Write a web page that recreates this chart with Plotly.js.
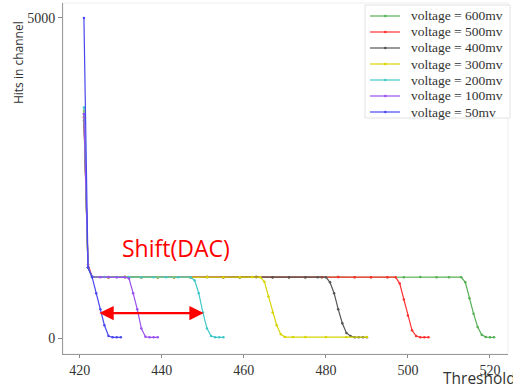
<!DOCTYPE html>
<html><head><meta charset="utf-8">
<script src="https://cdn.plot.ly/plotly-3.0.1.min.js"></script>
<style>html,body{margin:0;padding:0;background:#fff}#chart{width:513px;height:386px}</style>
</head><body><div id="chart"></div>
<script>
const seriesNames = ['voltage = 600mv','voltage = 500mv','voltage = 400mv','voltage = 300mv','voltage = 200mv','voltage = 100mv','voltage = 50mv'];
const seriesColors = ['#55b055','#ff3030','#555555','#d8d400','#40c8c8','#9a50f0','#4848f0'];

const greenX = [421,422,423,427,431,435,439,443,447,451,455,459,463,467,471,475,479,483,487,491,495,499,503,507,510,513,514,515,516,517,518,519,520,521];
const greenY = [3400,1100,955,950,952,950,948,951,950,953,949,950,952,950,948,951,950,952,949,950,951,950,952,949,950,950,870,620,380,170,50,15,10,10];
const redX = [421,422,423,427,431,435,439,443,447,451,455,459,463,467,471,475,479,483,487,491,495,497,498,499,500,501,502,503,504,505];
const redY = [3450,1150,960,950,952,950,948,951,950,953,949,950,952,950,948,951,950,952,949,950,951,950,850,600,350,120,30,10,10,10];
const grayX = [421,422,423,427,431,435,439,443,447,451,455,459,463,467,471,475,478,480,481,482,483,484,485,486,487,488,489,490];
const grayY = [3500,1100,955,950,952,950,948,951,950,953,949,950,952,950,948,951,950,950,870,700,450,230,80,30,10,10,10,10];
const yellowX = [421,422,423,427,431,435,439,443,447,451,455,459,462,464,465,466,467,468,469,470,472,475,480,485,490];
const yellowY = [3550,1100,955,950,952,950,948,951,950,953,949,950,952,950,880,650,400,200,60,15,15,15,15,15,15];
const cyanX = [421,422,423,426,429,432,435,438,441,444,447,448,449,450,451,452,453,454,455];
const cyanY = [3600,1100,955,952,950,953,949,951,950,948,950,900,700,400,150,30,10,10,10];
const purpleX = [421,422,423,425,427,429,431,432,433,434,435,436,437,438,439];
const purpleY = [3500,1100,955,950,952,948,950,930,700,450,150,20,10,10,10];
const blueX = [421,422,423,424,425,426,427,428,429,430];
const blueY = [5000,1100,950,700,450,200,30,10,10,10];

const xTickVals = [420,440,460,480,500,520];
const yTickVals = [0,5000];

const xs = [greenX,redX,grayX,yellowX,cyanX,purpleX,blueX];
const ys = [greenY,redY,grayY,yellowY,cyanY,purpleY,blueY];

const traces = xs.map((x,i)=>({
  x:x, y:ys[i], type:'scatter', mode:'lines+markers', name:seriesNames[i], showlegend:false,
  line:{color:seriesColors[i], width:1.2},
  marker:{color:seriesColors[i], size:2.5}
}));

// pixel -> paper helpers for the hand-built legend box
const L=63, R=508, T=3, B=354;
const px = v => (v-L)/(R-L);
const py = v => 1-(v-T)/(B-T);

const shapes = [
  {type:'rect', xref:'paper', yref:'paper', x0:0, x1:1, y0:0, y1:1, line:{color:'#eeeeee', width:1}, layer:'below'},
  {type:'rect', xref:'paper', yref:'paper', x0:px(365), x1:px(510), y0:py(118), y1:py(5), line:{color:'#e2e2e2', width:1}, fillcolor:'#ffffff', layer:'above'}
];
const annotations = [
  {xref:'paper', yref:'paper', x:-0.101, y:0.829, text:'Hits in channel', textangle:-90, showarrow:false,
    xanchor:'center', yanchor:'middle', font:{family:'Open Sans', size:12, color:'#333'}},
  {xref:'paper', yref:'paper', x:px(441), y:py(378), text:'Threshold', showarrow:false,
    xanchor:'left', yanchor:'middle', font:{family:'Open Sans', size:15.5, color:'#333'}},
  {xref:'x', yref:'y', x:443.5, y:1406, text:'Shift(DAC)', showarrow:false,
    xanchor:'center', yanchor:'middle', font:{family:'Open Sans', size:23, color:'#ff0000'}},
  {xref:'x', yref:'y', axref:'x', ayref:'y', x:450.2, y:390, ax:424.4, ay:390, text:'', showarrow:true,
    arrowhead:2, startarrowhead:2, arrowside:'end+start', arrowsize:1.3, startarrowsize:1.3, arrowwidth:2.2, arrowcolor:'#ff0000'}
];
seriesNames.forEach((name,i)=>{
  const rowY = 16 + 16*i;
  shapes.push({type:'line', xref:'paper', yref:'paper', x0:px(370), x1:px(400), y0:py(rowY), y1:py(rowY),
    line:{color:seriesColors[i], width:1.2}, layer:'above'});
  shapes.push({type:'circle', xref:'paper', yref:'paper', x0:px(384), x1:px(386.5), y0:py(rowY+1.2), y1:py(rowY-1.2),
    line:{width:0}, fillcolor:seriesColors[i], layer:'above'});
  annotations.push({xref:'paper', yref:'paper', x:px(409), y:py(rowY), text:name, showarrow:false,
    xanchor:'left', yanchor:'middle', font:{family:'Liberation Serif', size:13.5, color:'#333'}});
});

const layout = {
  width:513, height:386,
  margin:{l:63, r:5, t:3, b:32},
  paper_bgcolor:'#fff', plot_bgcolor:'#fff',
  showlegend:false,
  xaxis:{range:[415.9,524.4], tickvals:xTickVals, ticks:'outside', ticklen:3, tickcolor:'#888',
    showline:true, linecolor:'#999', linewidth:1, showgrid:false, zeroline:false,
    tickfont:{family:'Liberation Serif', size:14, color:'#333'}},
  yaxis:{range:[-250,5234], tickvals:yTickVals, ticks:'outside', ticklen:4, tickcolor:'#888',
    showline:true, linecolor:'#999', linewidth:1, showgrid:false, zeroline:false,
    tickfont:{family:'Liberation Serif', size:14, color:'#333'}},
  shapes:shapes,
  annotations:annotations
};
Plotly.newPlot('chart', traces, layout, {displayModeBar:false, staticPlot:true});
</script></body></html>
